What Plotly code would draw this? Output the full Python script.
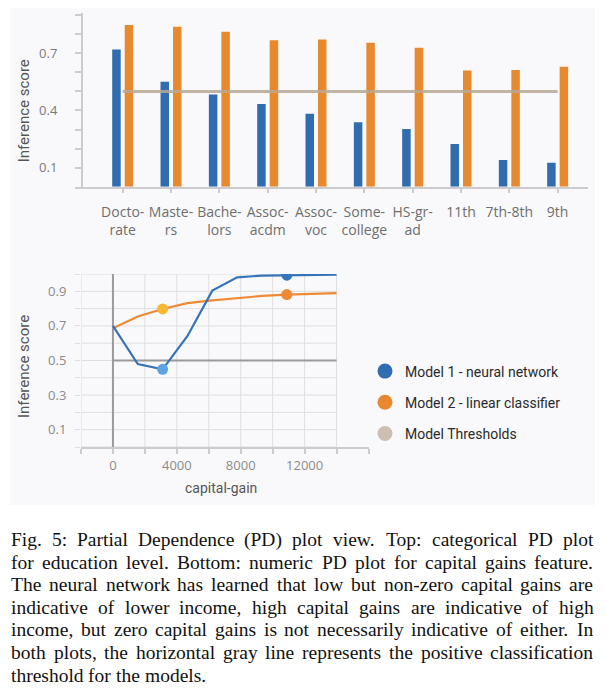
import plotly.graph_objects as go

# page offset of the plot div (default body margin) and figure size
OX, OY = 8, 8
FW, FH = 598, 683

# ---------------- data ----------------
categories = ["Doctorate", "Masters", "Bachelors", "Assoc-acdm", "Assoc-voc",
              "Some-college", "HS-grad", "11th", "7th-8th", "9th"]
tick_labels = ["Docto-<br>rate", "Maste-<br>rs", "Bache-<br>lors", "Assoc-<br>acdm",
               "Assoc-<br>voc", "Some-<br>college", "HS-gr-<br>ad", "11th", "7th-8th", "9th"]
nn_edu = [0.720, 0.551, 0.484, 0.434, 0.383, 0.338, 0.303, 0.224, 0.140, 0.126]
lin_edu = [0.848, 0.839, 0.813, 0.769, 0.773, 0.755, 0.729, 0.610, 0.612, 0.629]
edu_threshold = 0.5
edu_yticks = [0.1, 0.2, 0.3, 0.4, 0.5, 0.6, 0.7, 0.8, 0.9]
edu_ylabels = ["0.1", "", "", "0.4", "", "", "0.7", "", ""]

capital_gain = [0, 1556, 3111, 4667, 6222, 7778, 9333, 10889, 12444, 14000]
nn_gain = [0.700, 0.479, 0.449, 0.642, 0.904, 0.981, 0.991, 0.993, 0.995, 0.996]
lin_gain = [0.687, 0.754, 0.798, 0.832, 0.848, 0.862, 0.873, 0.881, 0.886, 0.890]
gain_threshold = 0.5
highlight_idx = [2, 7]
gain_xticks = [-2000, 0, 2000, 4000, 6000, 8000, 10000, 12000, 14000, 16000]
gain_xlabels = ["", "0", "", "4000", "", "8000", "", "12000", "", ""]
gain_yticks = [0.0, 0.1, 0.2, 0.3, 0.4, 0.5, 0.6, 0.7, 0.8, 0.9, 1.0]
gain_ylabels = ["", "0.1", "", "0.3", "", "0.5", "", "0.7", "", "0.9", ""]

legend_names = ["Model 1 - neural network", "Model 2 - linear classifier", "Model Thresholds"]

caption_lines = [
    "Fig. 5: Partial Dependence (PD) plot view. Top: categorical PD plot",
    "for education level. Bottom: numeric PD plot for capital gains feature.",
    "The neural network has learned that low but non-zero capital gains are",
    "indicative of lower income, high capital gains are indicative of high",
    "income, but zero capital gains is not necessarily indicative of either. In",
    "both plots, the horizontal gray line represents the positive classification",
    "threshold for the models.",
]

# ---------------- styles ----------------
BLUE = "#2f6db0"
ORANGE = "#e8892f"
BLUE_LINE = "#3574b8"
ORANGE_LINE = "#ee8a35"
BLUE_LIGHT = "#5ea3e6"
YELLOW = "#f7b733"
TAN = "rgba(185,168,148,0.85)"
BEIGE = "#ccbfb2"
AXIS = "#cccccc"
GRID = "#dedede"
SANS = "Roboto, Arial, sans-serif"
TICKFONT = "Open Sans, Arial, sans-serif"
SERIF = "Liberation Serif, Times New Roman, serif"


def px_x(p):
    return (p - OX) / FW


def px_y(p):
    return 1 - (p - OY) / FH


fig = go.Figure()

# ---------------- top: categorical PD ----------------
bar_w = 0.176
sep = 0.2586
fig.add_trace(go.Bar(x=categories, y=nn_edu, width=bar_w, offset=-sep / 2 - bar_w / 2,
                     marker=dict(color=BLUE, line=dict(width=0)), showlegend=False,
                     xaxis="x", yaxis="y"))
fig.add_trace(go.Bar(x=categories, y=lin_edu, width=bar_w, offset=sep / 2 - bar_w / 2,
                     marker=dict(color=ORANGE, line=dict(width=0)), showlegend=False,
                     xaxis="x", yaxis="y"))
fig.add_trace(go.Scatter(x=[categories[0], categories[-1]], y=[edu_threshold, edu_threshold],
                         mode="lines", line=dict(color=TAN, width=3), showlegend=False,
                         xaxis="x", yaxis="y"))

# ---------------- bottom: numeric PD ----------------
fig.add_trace(go.Scatter(x=[capital_gain[0], capital_gain[-1]], y=[gain_threshold, gain_threshold],
                         mode="lines", line=dict(color="#9a9a9a", width=2), showlegend=False,
                         xaxis="x2", yaxis="y2"))
fig.add_trace(go.Scatter(x=capital_gain, y=lin_gain, mode="lines",
                         line=dict(color=ORANGE_LINE, width=2.2), showlegend=False,
                         xaxis="x2", yaxis="y2"))
fig.add_trace(go.Scatter(x=capital_gain, y=nn_gain, mode="lines",
                         line=dict(color=BLUE_LINE, width=2.2), showlegend=False,
                         xaxis="x2", yaxis="y2"))
fig.add_trace(go.Scatter(x=[capital_gain[i] for i in highlight_idx],
                         y=[lin_gain[i] for i in highlight_idx], mode="markers",
                         marker=dict(size=11, color=[YELLOW, ORANGE_LINE]), showlegend=False,
                         xaxis="x2", yaxis="y2"))
fig.add_trace(go.Scatter(x=[capital_gain[i] for i in highlight_idx],
                         y=[nn_gain[i] for i in highlight_idx], mode="markers",
                         marker=dict(size=11, color=[BLUE_LIGHT, BLUE_LINE]), showlegend=False,
                         xaxis="x2", yaxis="y2"))

# legend-only entries (circles)
for name, col in zip(legend_names, [BLUE, ORANGE, BEIGE]):
    fig.add_trace(go.Scatter(x=[None], y=[None], mode="markers", name=name,
                             legendgroup=name,
                             marker=dict(size=15, color=col), xaxis="x2", yaxis="y2"))

shapes = []
# panel background
shapes.append(dict(type="rect", xref="paper", yref="paper", x0=px_x(10), x1=px_x(595),
                   y0=px_y(505), y1=1, fillcolor="#f9f9fb", line=dict(width=0),
                   layer="below"))
# bottom grid
for yv in gain_yticks:
    shapes.append(dict(type="line", xref="x2", yref="y2", x0=gain_xticks[0], x1=capital_gain[-1],
                       y0=yv, y1=yv, line=dict(color=GRID, width=1), layer="below"))
for xv in gain_xticks:
    if xv <= capital_gain[-1]:
        shapes.append(dict(type="line", xref="x2", yref="y2", x0=xv, x1=xv, y0=0, y1=1,
                           line=dict(color=GRID, width=1), layer="below"))
# zero line
shapes.append(dict(type="line", xref="x2", yref="y2", x0=0, x1=0, y0=0, y1=1,
                   line=dict(color="#9a9a9a", width=2), layer="below"))

fig.update_layout(
    width=FW, height=FH,
    margin=dict(l=0, r=0, t=0, b=0),
    paper_bgcolor="white",
    plot_bgcolor="rgba(0,0,0,0)",
    font=dict(family=SANS),
    barmode="overlay",
    shapes=shapes,
    xaxis=dict(domain=[px_x(75), px_x(588.3)], range=[-0.987, 9.634], anchor="y",
               tickmode="array", tickvals=categories, ticktext=tick_labels,
               ticks="outside", ticklen=5, tickcolor=AXIS, tickwidth=1.5,
               showline=True, linecolor=AXIS, linewidth=1.5, showgrid=False, zeroline=False,
               tickfont=dict(family=TICKFONT, size=14, color="#6e6e6e"), ticklabelstandoff=7),
    yaxis=dict(domain=[px_y(186.7), px_y(13.3)], range=[0, 0.91], anchor="free",
               position=px_x(81.7),
               tickmode="array", tickvals=edu_yticks, ticktext=edu_ylabels,
               ticks="outside", ticklen=6, tickcolor=AXIS, tickwidth=1.5,
               showline=True, linecolor=AXIS, linewidth=1.5, showgrid=False, zeroline=False,
               tickfont=dict(family=TICKFONT, size=13, color="#7a7a7a"), ticklabelstandoff=15),
    xaxis2=dict(domain=[px_x(81), px_x(368.5)], range=[-2000, 16000], anchor="y2",
                tickmode="array", tickvals=gain_xticks, ticktext=gain_xlabels,
                ticks="outside", ticklen=5, tickcolor=AXIS, tickwidth=1.5,
                showline=True, linecolor=AXIS, linewidth=1.5, showgrid=False, zeroline=False,
                tickfont=dict(family=TICKFONT, size=13, color="#8a8a8a"), ticklabelstandoff=1),
    yaxis2=dict(domain=[px_y(447), px_y(274)], range=[0, 1.0], anchor="x2",
                tickmode="array", tickvals=gain_yticks, ticktext=gain_ylabels,
                ticks="outside", ticklen=5, tickcolor=GRID, tickwidth=1,
                showline=False, showgrid=False, zeroline=False,
                tickfont=dict(family=TICKFONT, size=13, color="#8a8a8a"), ticklabelstandoff=6),
    legend=dict(x=px_x(365), y=px_y(355.5), xanchor="left", yanchor="top",
                bgcolor="rgba(0,0,0,0)", tracegroupgap=10,
                font=dict(family=SANS, size=14, color="#2a2a2a")),
)

annotations = []
# axis titles
annotations.append(dict(text="Inference score", x=px_x(24), y=px_y(111.3), xref="paper", yref="paper",
                        xanchor="center", yanchor="middle",
                        textangle=-90, showarrow=False, font=dict(size=15, color="#555555")))
annotations.append(dict(text="Inference score", x=px_x(24), y=px_y(367), xref="paper", yref="paper",
                        xanchor="center", yanchor="middle",
                        textangle=-90, showarrow=False, font=dict(size=15, color="#555555")))
annotations.append(dict(text="capital-gain", x=px_x(220.5), y=px_y(488), xref="paper", yref="paper",
                        xanchor="center", yanchor="middle",
                        showarrow=False, font=dict(size=14, color="#555555")))

# caption, justified word by word using Times metrics
TIMES = {' ': 250, '.': 250, ',': 250, ':': 278, '(': 333, ')': 333, '-': 333}
TIMES.update({d: 500 for d in "0123456789"})
TIMES.update(dict(zip("abcdefghijklmnopqrstuvwxyz",
                      [444, 500, 444, 500, 444, 333, 500, 500, 278, 278, 500, 278, 778, 500, 500,
                       500, 500, 333, 389, 278, 500, 500, 722, 500, 500, 444])))
TIMES.update(dict(zip("ABCDEFGHIJKLMNOPQRSTUVWXYZ",
                      [722, 667, 667, 722, 611, 556, 722, 722, 333, 389, 722, 611, 889, 722, 722,
                       556, 722, 667, 556, 611, 722, 722, 944, 722, 722, 611])))
cap_size = 19.5
cap_left, cap_right = 11.0, 593.3
cap_y0, cap_dy = 539.5, 22.6


def tw(s):
    return sum(TIMES.get(c, 500) for c in s) * cap_size / 1000.0


for li, line in enumerate(caption_lines):
    words = line.split(" ")
    widths = [tw(w) for w in words]
    if li < len(caption_lines) - 1:
        gap = (cap_right - cap_left - sum(widths)) / (len(words) - 1)
    else:
        gap = tw(" ")
    xpos = cap_left
    for w, wd in zip(words, widths):
        annotations.append(dict(text=w, x=px_x(xpos - 2), y=px_y(cap_y0 + li * cap_dy),
                                xref="paper", yref="paper", xanchor="left", yanchor="middle",
                                showarrow=False,
                                font=dict(family=SERIF, size=cap_size, color="#111111")))
        xpos += wd + gap

fig.update_layout(annotations=annotations)

fig.write_html("out.html")
